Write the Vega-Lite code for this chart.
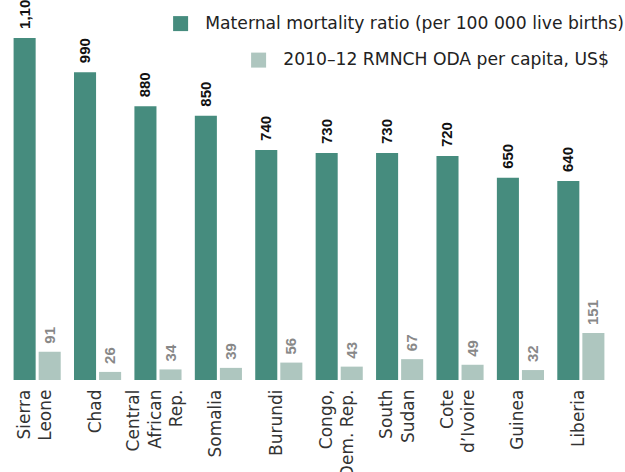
{
  "$schema": "https://vega.github.io/schema/vega-lite/v6.json",
  "width": 618,
  "height": 380,
  "autosize": "none",
  "padding": {"left": 0, "top": 0, "right": 7, "bottom": 92},
  "background": "white",
  "data": {
    "values": [
      {"country": "Sierra Leone", "series": "Maternal mortality ratio (per 100 000 live births)", "value": 1100},
      {"country": "Sierra Leone", "series": "2010–12 RMNCH ODA per capita, US$", "value": 91},
      {"country": "Chad", "series": "Maternal mortality ratio (per 100 000 live births)", "value": 990},
      {"country": "Chad", "series": "2010–12 RMNCH ODA per capita, US$", "value": 26},
      {"country": "Central African Rep.", "series": "Maternal mortality ratio (per 100 000 live births)", "value": 880},
      {"country": "Central African Rep.", "series": "2010–12 RMNCH ODA per capita, US$", "value": 34},
      {"country": "Somalia", "series": "Maternal mortality ratio (per 100 000 live births)", "value": 850},
      {"country": "Somalia", "series": "2010–12 RMNCH ODA per capita, US$", "value": 39},
      {"country": "Burundi", "series": "Maternal mortality ratio (per 100 000 live births)", "value": 740},
      {"country": "Burundi", "series": "2010–12 RMNCH ODA per capita, US$", "value": 56},
      {"country": "Congo, Dem. Rep.", "series": "Maternal mortality ratio (per 100 000 live births)", "value": 730},
      {"country": "Congo, Dem. Rep.", "series": "2010–12 RMNCH ODA per capita, US$", "value": 43},
      {"country": "South Sudan", "series": "Maternal mortality ratio (per 100 000 live births)", "value": 730},
      {"country": "South Sudan", "series": "2010–12 RMNCH ODA per capita, US$", "value": 67},
      {"country": "Cote d’Ivoire", "series": "Maternal mortality ratio (per 100 000 live births)", "value": 720},
      {"country": "Cote d’Ivoire", "series": "2010–12 RMNCH ODA per capita, US$", "value": 49},
      {"country": "Guinea", "series": "Maternal mortality ratio (per 100 000 live births)", "value": 650},
      {"country": "Guinea", "series": "2010–12 RMNCH ODA per capita, US$", "value": 32},
      {"country": "Liberia", "series": "Maternal mortality ratio (per 100 000 live births)", "value": 640},
      {"country": "Liberia", "series": "2010–12 RMNCH ODA per capita, US$", "value": 151}
    ]
  },
  "encoding": {
    "x": {
      "field": "country",
      "type": "nominal",
      "sort": null,
      "scale": {"paddingInner": 0.22, "paddingOuter": 0.225},
      "axis": {
        "title": null,
        "ticks": false,
        "domain": false,
        "labelAngle": 270,
        "labelAlign": "right",
        "labelBaseline": "middle",
        "labelPadding": 9,
        "labelFont": "DejaVu Sans",
        "labelFontSize": 17,
        "labelLineHeight": 21.5,
        "labelColor": "#333333",
        "labelOffset": {
          "condition": [
            {"test": "datum.value == 'Central African Rep.'", "value": -23.5},
            {"test": "indexof(['Chad', 'Somalia', 'Burundi', 'Guinea', 'Liberia'], datum.value) >= 0", "value": -2}
          ],
          "value": -12.5
        },
        "labelExpr": "datum.value == 'Congo, Dem. Rep.' ? ['Congo,', 'Dem. Rep.'] : split(datum.value, ' ')"
      }
    },
    "xOffset": {
      "field": "series",
      "type": "nominal",
      "scale": {
        "domain": ["Maternal mortality ratio (per 100 000 live births)", "2010–12 RMNCH ODA per capita, US$"],
        "paddingInner": 0.12,
        "paddingOuter": 0
      }
    },
    "y": {
      "field": "value",
      "type": "quantitative",
      "scale": {"domain": [0, 1222], "nice": false},
      "axis": null
    }
  },
  "layer": [
    {
      "transform": [{"filter": "datum.series == 'Maternal mortality ratio (per 100 000 live births)'"}],
      "mark": {"type": "bar"},
      "encoding": {
        "color": {
          "field": "series",
          "type": "nominal",
          "scale": {"range": ["#468C7E"]},
          "legend": {
            "title": null,
            "orient": "none",
            "legendX": 172,
            "legendY": 15,
            "padding": 0,
            "symbolType": "square",
            "symbolSize": 225,
            "symbolStrokeWidth": 0,
            "symbolOpacity": 1,
            "labelFont": "DejaVu Sans",
            "labelFontSize": 17.2,
            "labelColor": "#222222",
            "labelOffset": 16,
            "labelLimit": 600
          }
        }
      }
    },
    {
      "transform": [{"filter": "datum.series == '2010–12 RMNCH ODA per capita, US$'"}],
      "mark": {"type": "bar"},
      "encoding": {
        "color": {
          "field": "series",
          "type": "nominal",
          "scale": {"range": ["#AEC6BF"]},
          "legend": {
            "title": null,
            "orient": "none",
            "legendX": 250,
            "legendY": 51.5,
            "padding": 0,
            "symbolType": "square",
            "symbolSize": 225,
            "symbolStrokeWidth": 0,
            "symbolOpacity": 1,
            "labelFont": "DejaVu Sans",
            "labelFontSize": 17.2,
            "labelColor": "#222222",
            "labelOffset": 16,
            "labelLimit": 600
          }
        }
      }
    },
    {
      "transform": [{"filter": "datum.series == 'Maternal mortality ratio (per 100 000 live births)'"}],
      "mark": {"type": "text", "angle": 270, "align": "left", "baseline": "middle", "dx": 9, "font": "Liberation Sans", "fontWeight": "bold", "fontSize": 15, "color": "#111111"},
      "encoding": {"text": {"field": "value", "type": "quantitative", "format": ","}}
    },
    {
      "transform": [{"filter": "datum.series == '2010–12 RMNCH ODA per capita, US$'"}],
      "mark": {"type": "text", "angle": 270, "align": "left", "baseline": "middle", "dx": 8, "font": "Liberation Sans", "fontWeight": "bold", "fontSize": 15, "color": "#888888"},
      "encoding": {"text": {"field": "value", "type": "quantitative", "format": ","}}
    }
  ],
  "resolve": {"scale": {"color": "independent"}},
  "config": {
    "view": {"stroke": null}
  }
}
